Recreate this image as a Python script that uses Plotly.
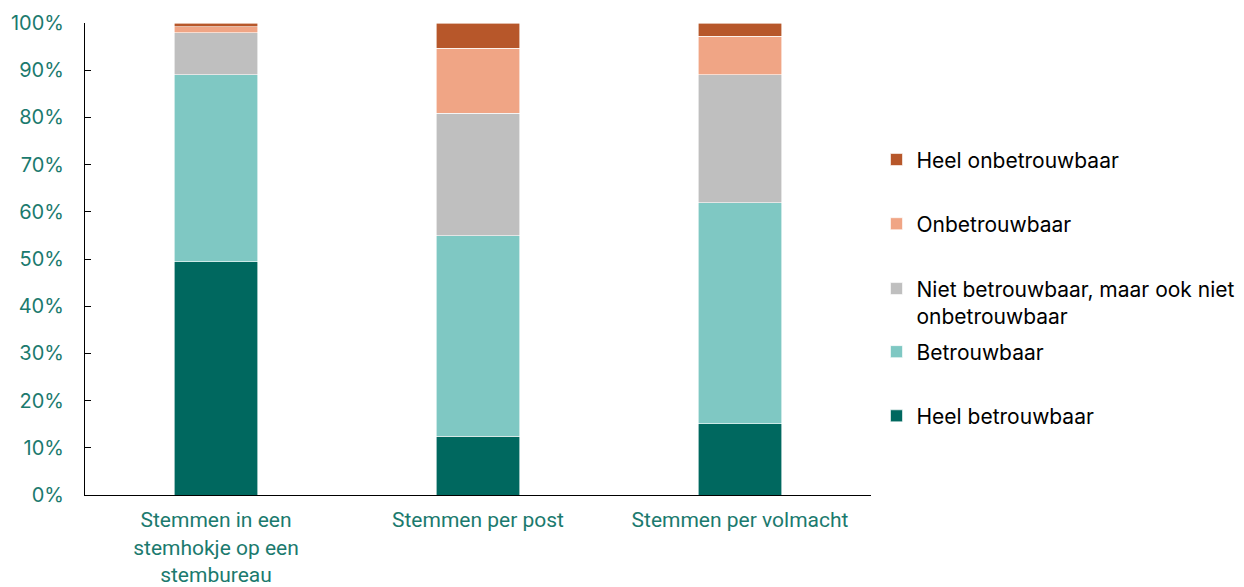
import plotly.graph_objects as go

categories = ['Stemmen in een<br>stemhokje op een<br>stembureau', 'Stemmen per post', 'Stemmen per volmacht']
series_names = ['Heel betrouwbaar', 'Betrouwbaar',
                'Niet betrouwbaar, maar ook niet<br>onbetrouwbaar',
                'Onbetrouwbaar', 'Heel onbetrouwbaar']
heel_betrouwbaar = [49.4, 12.5, 15.1]
betrouwbaar = [39.6, 42.4, 46.8]
niet_niet = [8.9, 26.0, 27.1]
onbetrouwbaar = [1.3, 13.8, 8.2]
heel_onbetrouwbaar = [0.8, 5.3, 2.8]
tick_vals = [0, 10, 20, 30, 40, 50, 60, 70, 80, 90, 100]
tick_text = ['%d%%' % v for v in tick_vals]

colors = ['#00685F', '#7FC8C3', '#BFBFBF', '#F0A585', '#B7572A']
all_vals = [heel_betrouwbaar, betrouwbaar, niet_niet, onbetrouwbaar, heel_onbetrouwbaar]
# one legend per series so the spacing can follow the original
legend_ids = ['legend', 'legend2', 'legend3', 'legend4', 'legend5']
legend_y = [0.167, 0.303, 0.408, 0.574, 0.710]

fig = go.Figure()
for i, (name, vals) in enumerate(zip(series_names, all_vals)):
    fig.add_trace(go.Bar(x=categories, y=vals, name=name, legend=legend_ids[i],
                         marker=dict(color=colors[i], line=dict(color='white', width=0.6))))

teal = '#1B7A6E'
lay = dict(
    barmode='stack', bargap=0.683,
    width=1244, height=587,
    margin=dict(l=77, r=375, t=15, b=100),
    plot_bgcolor='white', paper_bgcolor='white',
    font=dict(family='Inter', size=18, color='black'),
    showlegend=True,
)
for i, lid in enumerate(legend_ids):
    lay[lid] = dict(x=1.007, y=legend_y[i], xanchor='left', yanchor='middle', valign='top',
                    font=dict(size=21, color='black'), itemwidth=30, bgcolor='rgba(0,0,0,0)')
fig.update_layout(**lay)
fig.update_xaxes(showline=True, linecolor='black', linewidth=1.2, ticks='', automargin=False,
                 ticklabelstandoff=6,
                 tickfont=dict(family='Roboto', size=21, color=teal), showgrid=False)
fig.update_yaxes(range=[0, 100], tickvals=tick_vals, ticktext=tick_text, automargin=False,
                 showline=True, linecolor='black', linewidth=1.2, ticks='inside',
                 ticklen=6, tickcolor='black', showgrid=False, zeroline=False,
                 ticklabelstandoff=16,
                 tickfont=dict(family='Inter', size=20, color=teal))
fig.write_html('out.html')
